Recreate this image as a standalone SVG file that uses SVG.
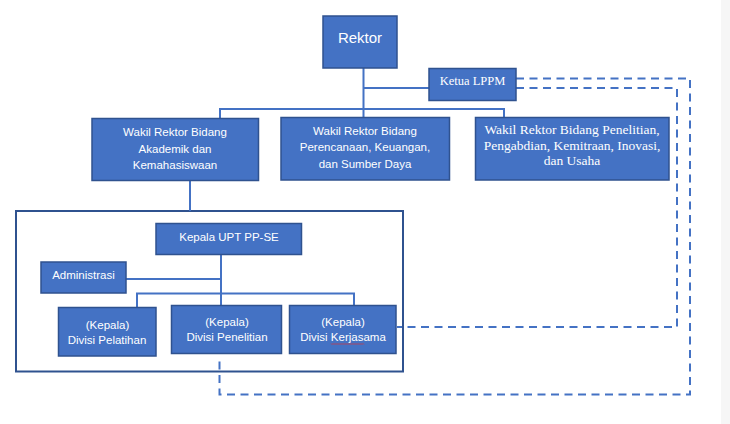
<svg xmlns="http://www.w3.org/2000/svg" width="730" height="424" viewBox="0 0 730 424">
<style>
.box{fill:#4472C4;stroke:#2F528F;stroke-width:1.5}
.ln{fill:none;stroke:#4472C4;stroke-width:2}
.dash{fill:none;stroke:#4472C4;stroke-width:2;stroke-dasharray:8 5.5}
.t{fill:#ffffff;font-family:"Liberation Sans","Open Sans",sans-serif;font-size:11.5px;text-anchor:middle}
.s{fill:#ffffff;font-family:"Liberation Serif","DejaVu Serif",serif;font-size:12.5px;text-anchor:middle}
.s2{font-size:13.5px}
</style>
<rect x="0" y="0" width="730" height="424" fill="#ffffff"/>
<rect x="721" y="0" width="9" height="424" fill="#f6f6f6"/>
<rect id="upt-frame" x="16" y="211" width="387" height="160.5" fill="none" stroke="#2F528F" stroke-width="2"/>
<g id="connectors">
<path class="ln" d="M363.5 68 V118 M363.5 88 H429 M220 118 V109 H504 V117"/>
<path class="ln" d="M190 180 V211"/>
<path class="ln" d="M221 254 V306 M126 279 H221 M137 308 V293.5 H354 V305"/>
<path class="dash" d="M516 78.5 H690 V394.5 H219.5 V359"/>
<path class="dash" d="M516 88 H677 V327 H397"/>
</g>
<g id="rektor"><rect class="box" x="323" y="16" width="74" height="52"/><text x="360" y="43" fill="#fff" font-family="Liberation Sans, sans-serif" font-size="15" text-anchor="middle">Rektor</text></g>
<g id="ketua-lppm"><rect class="box" x="429" y="68.5" width="87" height="32"/><text class="s" x="472.5" y="85">Ketua LPPM</text></g>
<g id="wr1"><rect class="box" x="92" y="118.5" width="166.5" height="62"/><text class="t" x="175" y="136">Wakil Rektor Bidang</text><text class="t" x="175" y="152.5">Akademik dan</text><text class="t" x="175" y="169">Kemahasiswaan</text></g>
<g id="wr2"><rect class="box" x="281" y="117.5" width="168.5" height="62.5"/><text class="t" x="365" y="134.5">Wakil Rektor Bidang</text><text class="t" x="365" y="151">Perencanaan, Keuangan,</text><text class="t" x="365" y="167.5">dan Sumber Daya</text></g>
<g id="wr3"><rect class="box" x="475.5" y="117.5" width="193.5" height="62.5"/><text class="s s2" x="572" y="134">Wakil Rektor Bidang Penelitian,</text><text class="s s2" x="572" y="150">Pengabdian, Kemitraan, Inovasi,</text><text class="s s2" x="572" y="165">dan Usaha</text></g>
<g id="kepala-upt"><rect class="box" x="156" y="223.5" width="145.5" height="31"/><text class="t" x="229" y="240.5">Kepala UPT PP-SE</text></g>
<g id="administrasi"><rect class="box" x="41" y="262" width="85" height="31"/><text class="t" x="83.5" y="279">Administrasi</text></g>
<g id="div-pelatihan"><rect class="box" x="58.5" y="307.5" width="97.5" height="48.5"/><text class="t" x="107.5" y="328.5">(Kepala)</text><text class="t" x="107" y="343.5">Divisi Pelatihan</text></g>
<g id="div-penelitian"><rect class="box" x="171.5" y="305.5" width="110" height="48"/><text class="t" x="227" y="326">(Kepala)</text><text class="t" x="227" y="341">Divisi Penelitian</text></g>
<g id="div-kerjasama"><rect class="box" x="289.5" y="305.5" width="106.5" height="48"/><text class="t" x="343" y="326">(Kepala)</text><text class="t" x="343" y="341">Divisi Kerjasama</text><path d="M331 343.5 l1 1 l1 -1 l1 1 l1 -1 l1 1 l1 -1 l1 1 l1 -1 l1 1 l1 -1 l1 1 l1 -1 l1 1 l1 -1 l1 1 l1 -1 l1 1 l1 -1 l1 1 l1 -1 l1 1 l1 -1 l1 1 l1 -1 l1 1 l1 -1 l1 1 l1 -1 l1 1 l1 -1 l1 1 l1 -1 l1 1" fill="none" stroke="#e03030" stroke-width="0.7"/></g>
</svg>
